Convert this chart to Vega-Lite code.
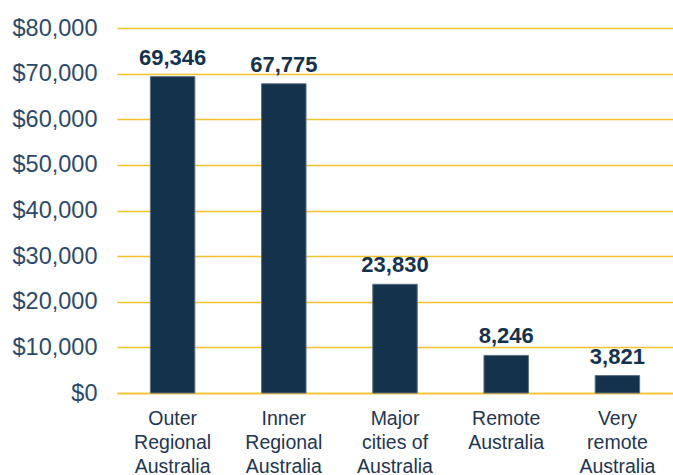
{
  "$schema": "https://vega.github.io/schema/vega-lite/v6.json",
  "autosize": {"type": "none"},
  "padding": {"left": 117, "top": 28, "right": 0, "bottom": 82},
  "width": 556,
  "height": 365,
  "background": "white",
  "data": {"values": [
    {"region": "Outer|Regional|Australia", "value": 69346},
    {"region": "Inner|Regional|Australia", "value": 67775},
    {"region": "Major|cities of|Australia", "value": 23830},
    {"region": "Remote|Australia", "value": 8246},
    {"region": "Very|remote|Australia", "value": 3821}
  ]},
  "config": {
    "view": {"stroke": null},
    "font": "Liberation Sans"
  },
  "encoding": {
    "x": {
      "field": "region", "type": "nominal", "sort": null,
      "scale": {"paddingInner": 0.6, "paddingOuter": 0.3},
      "axis": {
        "title": null, "labelAngle": 0, "ticks": false,
        "domainColor": "#f2c12e", "domainWidth": 1.5,
        "labelExpr": "split(datum.label, '|')",
        "labelFontSize": 19.5, "labelColor": "#1e3650",
        "labelPadding": 16, "labelLineHeight": 24,
        "labelBaseline": "top", "labelOverlap": false, "labelBound": false
      }
    },
    "y": {
      "field": "value", "type": "quantitative",
      "scale": {"domain": [0, 80000]},
      "axis": {
        "title": null, "values": [0,10000,20000,30000,40000,50000,60000,70000,80000],
        "format": "$,.0f", "ticks": false, "domain": false,
        "gridColor": "#f2c12e", "gridWidth": 1.5,
        "labelFontSize": 23.5, "labelColor": "#2c4a68",
        "labelPadding": 20, "labelOverlap": false, "labelBound": false
      }
    }
  },
  "layer": [
    {
      "mark": {"type": "bar", "color": "#15324d", "stroke": "#5d7185", "strokeWidth": 1}
    },
    {
      "mark": {"type": "text", "fontSize": 22, "fontWeight": "bold", "color": "#15324d", "baseline": "alphabetic", "dy": -12},
      "encoding": {"text": {"field": "value", "type": "quantitative", "format": ",.0f"}}
    }
  ]
}
